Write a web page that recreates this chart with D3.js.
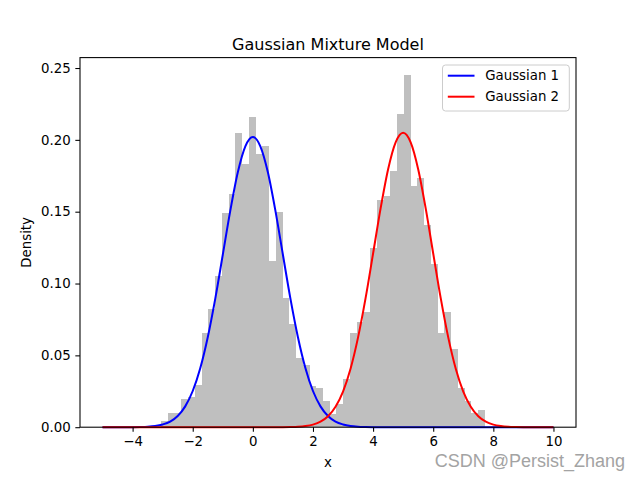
<!DOCTYPE html>
<html>
<head>
<meta charset="utf-8">
<script src="https://cdn.jsdelivr.net/npm/d3@7"></script>
<style>
  body { margin: 0; background: #fff; }
  text { font-family: "DejaVu Sans", sans-serif; }
</style>
</head>
<body>
<div id="chart"></div>
<script>
// histogram: first bin edge, bin width, density of each bin
var histStart = -3.05;
var binWidth = 0.2243;
var densities = [0.0045, 0.0100, 0.0100, 0.0195, 0.0210, 0.0294, 0.0657, 0.0826,
  0.1050, 0.1490, 0.1625, 0.2046, 0.1830, 0.2160, 0.1900, 0.1960, 0.1160, 0.1495,
  0.0900, 0.0715, 0.0480, 0.0430, 0.0290, 0.0270, 0.0180, 0.0095, 0.0160, 0.0338,
  0.0653, 0.0734, 0.0803, 0.1248, 0.1580, 0.1606, 0.1785, 0.2180, 0.2450, 0.1676,
  0.1734, 0.1405, 0.1139, 0.0653, 0.0803, 0.0542, 0.0276, 0.0183, 0.0097, 0.0120];

// curve sample positions (-5 .. 10 every 0.25) and the two components
var curveX = [-5, -4.75, -4.5, -4.25, -4, -3.75, -3.5, -3.25, -3, -2.75, -2.5, -2.25,
  -2, -1.75, -1.5, -1.25, -1, -0.75, -0.5, -0.25, 0, 0.25, 0.5, 0.75, 1, 1.25, 1.5,
  1.75, 2, 2.25, 2.5, 2.75, 3, 3.25, 3.5, 3.75, 4, 4.25, 4.5, 4.75, 5, 5.25, 5.5,
  5.75, 6, 6.25, 6.5, 6.75, 7, 7.25, 7.5, 7.75, 8, 8.25, 8.5, 8.75, 9, 9.25, 9.5,
  9.75, 10];
var gauss1 = [0, 0, 0, 0, 0, 0.0001, 0.0003, 0.0008, 0.0019, 0.0039, 0.0078, 0.0145,
  0.0252, 0.0410, 0.0626, 0.0895, 0.1200, 0.1507, 0.1774, 0.1955, 0.2020, 0.1955,
  0.1774, 0.1507, 0.1200, 0.0895, 0.0626, 0.0410, 0.0252, 0.0145, 0.0078, 0.0039,
  0.0019, 0.0008, 0.0003, 0.0001, 0, 0, 0, 0, 0, 0, 0, 0, 0, 0, 0, 0, 0, 0, 0, 0,
  0, 0, 0, 0, 0, 0, 0, 0, 0];
var gauss2 = [0, 0, 0, 0, 0, 0, 0, 0, 0, 0, 0, 0, 0, 0, 0, 0, 0, 0, 0, 0, 0, 0, 0, 0,
  0, 0.0001, 0.0003, 0.0008, 0.0018, 0.0038, 0.0076, 0.0142, 0.0248, 0.0407, 0.0625,
  0.0898, 0.1209, 0.1523, 0.1796, 0.1983, 0.2050, 0.1983, 0.1796, 0.1523, 0.1209,
  0.0898, 0.0625, 0.0407, 0.0248, 0.0142, 0.0076, 0.0038, 0.0018, 0.0008, 0.0003,
  0.0001, 0, 0, 0, 0, 0];

var xTicks = [-4, -2, 0, 2, 4, 6, 8, 10];
var yTicks = [0, 0.05, 0.10, 0.15, 0.20, 0.25];
var seriesNames = ["Gaussian 1", "Gaussian 2"];
var seriesColors = ["#0000ff", "#ff0000"];

var margin = {top: 57.6, right: 64, bottom: 52.8, left: 80},
  width = 640 - margin.left - margin.right,
  height = 480 - margin.top - margin.bottom;

var svg = d3.select("#chart")
  .append("svg")
    .attr("width", 640)
    .attr("height", 480);

var g = svg.append("g")
    .attr("transform", "translate(" + margin.left + "," + margin.top + ")");

// matplotlib style 5% margins
var x = d3.scaleLinear()
  .domain([-5 - 0.75, 10 + 0.75])
  .range([0, width]);
var y = d3.scaleLinear()
  .domain([0, d3.max(densities) * 1.05])
  .range([height, 0]);

// histogram bars
g.selectAll(".bar")
  .data(densities)
  .enter()
  .append("rect")
    .attr("class", "bar")
    .attr("x", function(d, i) { return x(histStart + i * binWidth); })
    .attr("width", function(d, i) { return x(histStart + (i + 1) * binWidth) - x(histStart + i * binWidth); })
    .attr("y", function(d) { return y(d); })
    .attr("height", function(d) { return height - y(d); })
    .style("fill", "#bfbfbf")
    .attr("shape-rendering", "crispEdges");

var line = d3.line()
  .x(function(d) { return x(d[0]); })
  .y(function(d) { return y(d[1]); })
  .curve(d3.curveMonotoneX);

[gauss1, gauss2].forEach(function(s, k) {
  g.append("path")
    .datum(curveX.map(function(v, i) { return [v, s[i]]; }))
    .attr("d", line)
    .style("fill", "none")
    .style("stroke", seriesColors[k])
    .style("stroke-width", 2);
});

// axes
var xAxis = g.append("g")
  .attr("transform", "translate(0," + height + ")")
  .call(d3.axisBottom(x).tickValues(xTicks).tickSize(4.67).tickPadding(4.67).tickSizeOuter(0)
    .tickFormat(function(d) { return d < 0 ? "\u2212" + Math.abs(d) : d; }));
var yAxis = g.append("g")
  .call(d3.axisLeft(y).tickValues(yTicks).tickSize(4.67).tickPadding(4.67).tickSizeOuter(0)
    .tickFormat(d3.format(".2f")));

[xAxis, yAxis].forEach(function(a) {
  a.select(".domain").remove();
  a.selectAll("line").style("stroke", "#000").style("stroke-width", 1.07);
  a.selectAll("text").style("font-size", "13.33px").style("fill", "#000")
    .style("font-family", "DejaVu Sans");
});

// frame
g.append("rect")
  .attr("width", width)
  .attr("height", height)
  .style("fill", "none")
  .style("stroke", "#000")
  .style("stroke-width", 1.07);

// titles
svg.append("text")
  .attr("x", margin.left + width / 2)
  .attr("y", 49.6)
  .attr("text-anchor", "middle")
  .style("font-size", "16px")
  .text("Gaussian Mixture Model");

svg.append("text")
  .attr("x", margin.left + width / 2)
  .attr("y", 467)
  .attr("text-anchor", "middle")
  .style("font-size", "13.33px")
  .text("x");

svg.append("text")
  .attr("transform", "translate(31," + (margin.top + height / 2) + ") rotate(-90)")
  .attr("text-anchor", "middle")
  .style("font-size", "13.33px")
  .text("Density");

// legend
var legend = g.append("g")
  .attr("transform", "translate(" + (width - 133.5) + ",7.4)");
legend.append("rect")
  .attr("width", 126.8)
  .attr("height", 46)
  .attr("rx", 3)
  .style("fill", "#fff")
  .style("fill-opacity", 0.8)
  .style("stroke", "#cccccc")
  .style("stroke-width", 1);
seriesNames.forEach(function(name, i) {
  var ly = 10.7 + i * 21;
  legend.append("line")
    .attr("x1", 5.3).attr("x2", 32)
    .attr("y1", ly).attr("y2", ly)
    .style("stroke", seriesColors[i])
    .style("stroke-width", 2);
  legend.append("text")
    .attr("x", 42.7)
    .attr("y", ly + 4.7)
    .style("font-size", "13.33px")
    .text(name);
});

// watermark
svg.append("text")
  .attr("x", 625)
  .attr("y", 467)
  .attr("text-anchor", "end")
  .style("font-family", "Liberation Sans, Arial, sans-serif")
  .style("font-size", "18px")
  .style("fill", "#a3a3a3")
  .text("CSDN @Persist_Zhang");
</script>
</body>
</html>
